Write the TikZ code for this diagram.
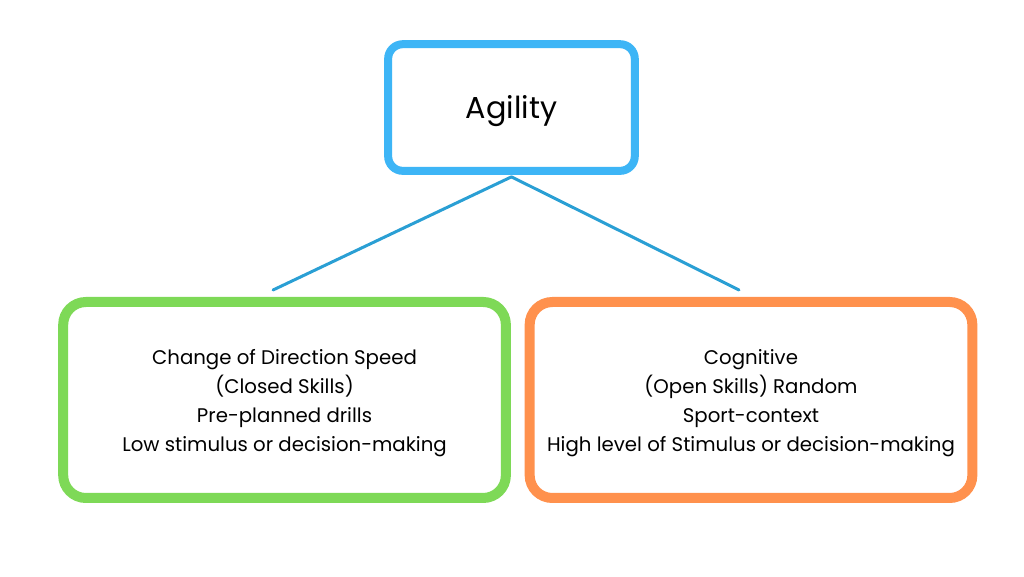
\documentclass[tikz,border=0pt]{standalone}
\usepackage{fontspec}
\setmainfont{Poppins}
\usetikzlibrary{calc,positioning}
\definecolor{skyblue}{HTML}{3DB5F6}
\definecolor{linkblue}{HTML}{2A9FD4}
\definecolor{leafgreen}{HTML}{7ED957}
\definecolor{tangerine}{HTML}{FF914D}
\newcommand{\lowtext}[1]{\raisebox{-1.5pt}[\height][\depth]{\begin{tabular}{@{}c@{}}#1\end{tabular}}}
\tikzset{
  topbox/.style={draw=skyblue, line width=6pt, rounded corners=11pt, fill=white,
    minimum width=185pt, minimum height=95pt, font=\fontsize{22.7}{26}\selectfont},
  skillbox/.style={line width=7.5pt, rounded corners=17pt, fill=white,
    minimum width=332pt, minimum height=147pt,
    font=\fontsize{14.8}{21.75}\selectfont},
  link/.style={draw=linkblue, line width=2.25pt, line cap=round}
}

\begin{document}
\begin{tikzpicture}[x=1pt,y=1pt]
			%%%%% START %%%%%
			\useasboundingbox (0,0) rectangle (768,432.75);
			
			\node[topbox] (agility) at (383.6,352.1) {\raisebox{-2.5pt}[\height][\depth]{Agility}};
			
			\node[skillbox, draw=leafgreen] (cod) at (213.4,132.75)
			  {\lowtext{Change of Direction Speed\\(Closed Skills)\\Pre-planned drills\\Low stimulus or decision-making}};
			\node[skillbox, draw=tangerine] (cog) at (563.25,132.75)
			  {\lowtext{Cognitive\\(Open Skills) Random\\Sport-context\\High level of Stimulus or decision-making}};
			
			\draw[link] ([yshift=-1.5pt]agility.south) -- ([xshift=-8.6pt,yshift=5.25pt]cod.north);
			\draw[link] ([yshift=-1.5pt]agility.south) -- ([xshift=-9pt,yshift=5.25pt]cog.north);
			%%%%% END %%%%%
\end{tikzpicture}
\end{document}
